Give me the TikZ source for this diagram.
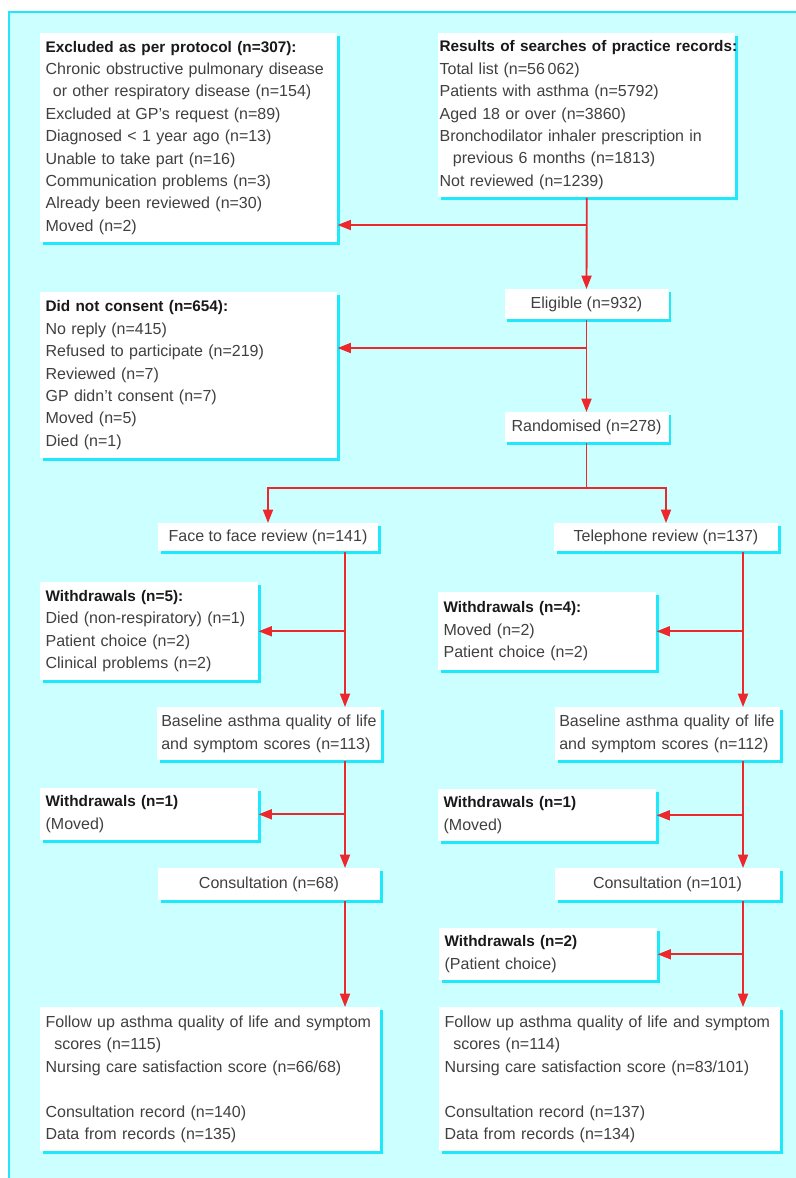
\documentclass[tikz,border=0pt]{standalone}
\usepackage{fontspec}
\setmainfont{Liberation Sans}
\usetikzlibrary{arrows.meta,shadows}
\definecolor{panel}{RGB}{204,255,255}
\definecolor{rim}{RGB}{30,232,250}
\definecolor{flow}{RGB}{236,40,45}
\newcommand{\hd}[1]{\mbox{\fontsize{11.5}{16.8}\selectfont\bfseries\color{black!90}#1}}

\begin{document}
\begin{tikzpicture}[x=0.75pt,y=-0.75pt,
	txt/.style={font=\fontsize{12}{16.8}\selectfont,text=black!75},
	box/.style={txt,fill=white,anchor=north west,align=left,inner xsep=4pt,inner ysep=0pt,
		drop shadow={shadow xshift=2.2pt,shadow yshift=-2.2pt,fill=rim,opacity=1}},
	cbox/.style={box,anchor=north,align=center},
	ln/.style={draw=flow,line width=1.4pt},
	arr/.style={ln,-{Triangle[length=10pt,width=7.5pt]}}]
	\useasboundingbox (0,0) rectangle (796,1178);
	\fill[panel] (8,11) rectangle (796,1178);
	\draw[rim,line width=1.5pt] (9,1178) -- (9,12) -- (796,12);
	%% screening
	\node[box,text width=214.75pt,minimum height=156.75pt] (excl) at (40,33) {\hd{Excluded as per protocol (n=307):}\\
		Chronic obstructive pulmonary disease\\
		\hspace*{5.5pt}or other respiratory disease (n=154)\\
		Excluded at GP's request (n=89)\\
		Diagnosed < 1 year ago (n=13)\\
		Unable to take part (n=16)\\
		Communication problems (n=3)\\
		Already been reviewed (n=30)\\
		Moved (n=2)};
	\node[box,inner xsep=1pt,text width=220.75pt,minimum height=123pt] (search) at (438,33) {\hd{Results of searches of practice records:}\\
		Total list (n=56\,062)\\
		Patients with asthma (n=5792)\\
		Aged 18 or over (n=3860)\\
		Bronchodilator inhaler prescription in\\
		\hspace*{10pt}previous 6 months (n=1813)\\
		Not reviewed (n=1239)};
	\node[box,text width=214.75pt,minimum height=124.5pt] (consent) at (40,292) {\hd{Did not consent (n=654):}\\
		No reply (n=415)\\
		Refused to participate (n=219)\\
		Reviewed (n=7)\\
		GP didn't consent (n=7)\\
		Moved (n=5)\\
		Died (n=1)};
	\node[cbox,minimum width=123pt,minimum height=22.5pt] (elig) at (586.5,289) {Eligible (n=932)};
	\node[cbox,minimum width=123pt,minimum height=22.5pt] (rand) at (586.5,412) {Randomised (n=278)};
	%% face to face arm
	\node[cbox,minimum width=165pt,minimum height=21pt] (face) at (268,523) {Face to face review (n=141)};
	\node[box,text width=155.5pt,minimum height=73.5pt] (wd5) at (40,582) {\hd{Withdrawals (n=5):}\\
		Died (non-respiratory) (n=1)\\
		Patient choice (n=2)\\
		Clinical problems (n=2)};
	\node[box,inner xsep=3pt,text width=162pt,minimum height=39.75pt] (base1) at (157,707) {Baseline asthma quality of life\\
		and symptom scores (n=113)};
	\node[box,text width=155.5pt,minimum height=39pt] (wdl1) at (40,788) {\hd{Withdrawals (n=1)}\\
		(Moved)};
	\node[cbox,minimum width=166.5pt,minimum height=24pt] (cons1) at (269,868) {Consultation (n=68)};
	\node[box,text width=247pt,minimum height=108pt] (fu1) at (40,1007) {Follow up asthma quality of life and symptom\\
		\hspace*{6.5pt}scores (n=115)\\
		Nursing care satisfaction score (n=66/68)\\[16.8pt]
		Consultation record (n=140)\\
		Data from records (n=135)};
	%% telephone arm
	\node[cbox,minimum width=168pt,minimum height=21pt] (tel) at (666,523) {Telephone review (n=137)};
	\node[box,text width=155.5pt,minimum height=58.5pt] (wd4) at (438,592) {\hd{Withdrawals (n=4):}\\
		Moved (n=2)\\
		Patient choice (n=2)};
	\node[box,inner xsep=3pt,text width=162.75pt,minimum height=39.75pt] (base2) at (555,707) {Baseline asthma quality of life\\
		and symptom scores (n=112)};
	\node[box,text width=155.5pt,minimum height=39pt] (wdr1) at (438,789) {\hd{Withdrawals (n=1)}\\
		(Moved)};
	\node[cbox,minimum width=168.75pt,minimum height=24pt] (cons2) at (667.5,868) {Consultation (n=101)};
	\node[box,text width=155.5pt,minimum height=39pt] (wd2) at (439,928) {\hd{Withdrawals (n=2)}\\
		(Patient choice)};
	\node[box,text width=247.75pt,minimum height=108pt] (fu2) at (439,1007) {Follow up asthma quality of life and symptom\\
		\hspace*{6.5pt}scores (n=114)\\
		Nursing care satisfaction score (n=83/101)\\[16.8pt]
		Consultation record (n=137)\\
		Data from records (n=134)};
	%% flow
	\coordinate (h1) at (0,225);
	\coordinate (h2) at (0,348);
	\coordinate (h3) at (0,488);
	\coordinate (lc) at (345,0);
	\coordinate (rc) at (743,0);
	\draw[arr] (search.south) -- (elig.north);
	\draw[arr] (search.south |- h1) -- (excl.east |- h1);
	\draw[arr] (elig.south) -- (rand.north);
	\draw[arr] (elig.south |- h2) -- (consent.east |- h2);
	\draw[ln] (rand.south) -- (rand.south |- h3);
	\draw[arr] (rand.south |- h3) -| (face.north);
	\draw[arr] (rand.south |- h3) -| (tel.north);
	\draw[arr] (lc |- face.south) -- (lc |- base1.north);
	\draw[arr] (lc |- wd5.east) -- (wd5.east);
	\draw[arr] (lc |- base1.south) -- (lc |- cons1.north);
	\draw[arr] (lc |- wdl1.east) -- (wdl1.east);
	\draw[arr] (lc |- cons1.south) -- (lc |- fu1.north);
	\draw[arr] (rc |- tel.south) -- (rc |- base2.north);
	\draw[arr] (rc |- wd4.east) -- (wd4.east);
	\draw[arr] (rc |- base2.south) -- (rc |- cons2.north);
	\draw[arr] (rc |- wdr1.east) -- (wdr1.east);
	\draw[arr] (rc |- cons2.south) -- (rc |- fu2.north);
	\draw[arr] (rc |- wd2.east) -- (wd2.east);
\end{tikzpicture}
\end{document}
